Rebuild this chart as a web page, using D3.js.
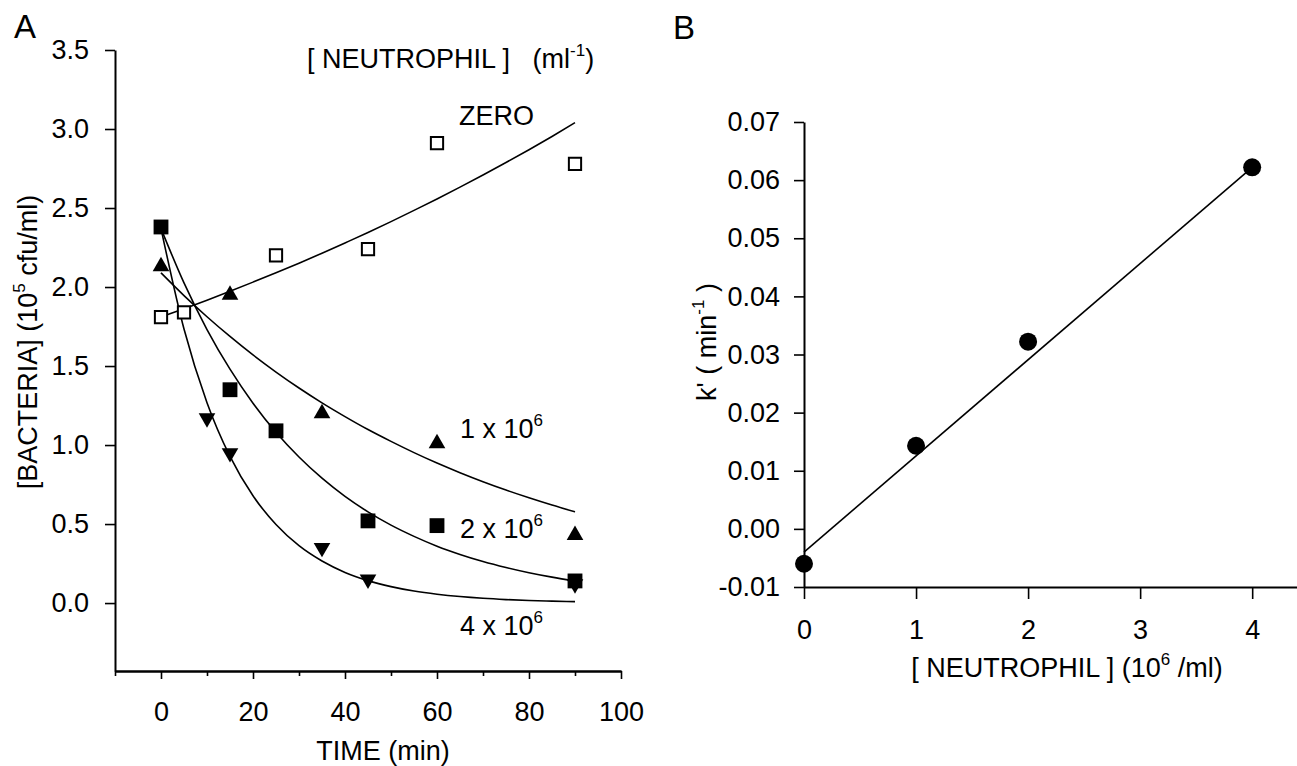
<!DOCTYPE html>
<html><head><meta charset="utf-8">
<script src="https://cdn.jsdelivr.net/npm/d3@7"></script>
<style>body{margin:0;background:#fff}text{font-family:"Liberation Sans",Arial,sans-serif;fill:#000}</style>
</head><body>
<script>
// ---------- Panel A data ----------
const timeZero = [0, 5, 25, 45, 60, 90];
const bactZero = [1.81, 1.84, 2.20, 2.24, 2.91, 2.78];
const time1e6 = [0, 15, 35, 60, 90];
const bact1e6 = [2.13, 1.95, 1.20, 1.01, 0.43];
const time2e6 = [0, 15, 25, 45, 60, 90];
const bact2e6 = [2.38, 1.35, 1.09, 0.52, 0.49, 0.14];
const time4e6 = [10, 15, 35, 45, 90];
const bact4e6 = [1.17, 0.95, 0.35, 0.15, 0.12];
// fitted curves
const fitTime = [0,5,10,15,20,25,30,35,40,45,50,55,60,65,70,75,80,85,90];
const fitZero = [1.81,1.863,1.917,1.973,2.031,2.090,2.151,2.214,2.279,2.345,2.414,2.485,2.557,2.632,2.709,2.788,2.869,2.953,3.04];
const fit1e6 = [2.09,1.946,1.812,1.687,1.570,1.462,1.361,1.267,1.180,1.098,1.023,0.952,0.886,0.825,0.768,0.715,0.666,0.620,0.577];
const fit2e6 = [2.37,2.026,1.731,1.480,1.265,1.081,0.924,0.790,0.675,0.577,0.493,0.422,0.360,0.308,0.263,0.225,0.192,0.164,0.140];
const fit4e6 = [2.37,1.734,1.268,0.928,0.679,0.497,0.363,0.266,0.194,0.142,0.104,0.076,0.056,0.041,0.030,0.022,0.016,0.012,0.009];
const xTicksA = [0, 20, 40, 60, 80, 100];
const xMinorA = [-10, 10, 30, 50, 70, 90];
const yTicksA = [0, 0.5, 1, 1.5, 2, 2.5, 3, 3.5];

// ---------- Panel B data ----------
const neutro = [0, 1, 2, 4];
const kPrime = [-0.0060, 0.0143, 0.0322, 0.0622];
const fitNeutro = [0, 4];
const fitK = [-0.0040, 0.0622];
const xTicksB = [0, 1, 2, 3, 4];
const yTicksB = [-0.01, 0, 0.01, 0.02, 0.03, 0.04, 0.05, 0.06, 0.07];

const W = 1297, H = 766;
const FS = 27;
const svg = d3.select("body").append("svg").attr("width", W).attr("height", H);
svg.append("rect").attr("width", W).attr("height", H).attr("fill", "#fff");

function styleAxis(g) {
  g.selectAll("path.domain").attr("stroke", "#000").attr("stroke-width", 2);
  g.selectAll(".tick line").attr("stroke", "#000").attr("stroke-width", 1.6);
  g.selectAll(".tick text").style("font-size", FS + "px").attr("fill", "#000")
    .style("font-family", '"Liberation Sans",Arial,sans-serif');
}
function sup(textSel, parts) {
  parts.forEach(([s, isSup], i) => {
    const t = textSel.append("tspan").text(s);
    if (isSup) t.attr("dy", -12).style("font-size", "17px");
    else if (i > 0 && parts[i - 1][1]) t.attr("dy", 12);
  });
}

// ================= Panel A =================
const xA = d3.scaleLinear().domain([-10, 100]).range([115, 621]);
const yA = d3.scaleLinear().domain([-0.43, 3.5]).range([671, 50]);

const gxA = svg.append("g").attr("transform", `translate(0,${yA(-0.43)})`)
  .call(d3.axisBottom(xA).tickValues(xTicksA).tickSize(8).tickSizeOuter(0).tickPadding(23).tickFormat(d3.format("d")));
styleAxis(gxA);
const gxAm = svg.append("g").attr("transform", `translate(0,${yA(-0.43)})`)
  .call(d3.axisBottom(xA).tickValues(xMinorA).tickSize(5).tickSizeOuter(0).tickFormat(""));
styleAxis(gxAm);
const gyA = svg.append("g").attr("transform", `translate(${xA(-10)},0)`)
  .call(d3.axisLeft(yA).tickValues(yTicksA).tickSize(10).tickSizeOuter(0).tickPadding(16).tickFormat(d3.format(".1f")));
styleAxis(gyA);

const lineA = d3.line().x(d => xA(d[0])).y(d => yA(d[1])).curve(d3.curveMonotoneX);
[fitZero, fit1e6, fit2e6, fit4e6].forEach(f => {
  svg.append("path").datum(fitTime.map((t, i) => [t, f[i]]))
    .attr("d", lineA).attr("fill", "none").attr("stroke", "#000").attr("stroke-width", 1.6);
});

// markers
const sqOpen = d3.symbol().type(d3.symbolSquare).size(150);
const sqFill = d3.symbol().type(d3.symbolSquare).size(220);
const tri = d3.symbol().type(d3.symbolTriangle).size(120);
svg.append("g").selectAll("path").data(timeZero.map((t, i) => [t, bactZero[i]])).join("path")
  .attr("d", sqOpen).attr("transform", d => `translate(${xA(d[0])},${yA(d[1])})`)
  .attr("fill", "#fff").attr("stroke", "#000").attr("stroke-width", 2);
svg.append("g").selectAll("path").data(time4e6.map((t, i) => [t, bact4e6[i]])).join("path")
  .attr("d", tri).attr("transform", d => `translate(${xA(d[0])},${yA(d[1])}) rotate(180)`)
  .attr("fill", "#000");
svg.append("g").selectAll("path").data(time1e6.map((t, i) => [t, bact1e6[i]])).join("path")
  .attr("d", tri).attr("transform", d => `translate(${xA(d[0])},${yA(d[1])})`)
  .attr("fill", "#000");
svg.append("g").selectAll("path").data(time2e6.map((t, i) => [t, bact2e6[i]])).join("path")
  .attr("d", sqFill).attr("transform", d => `translate(${xA(d[0])},${yA(d[1])})`)
  .attr("fill", "#000");

// texts A
svg.append("text").attr("x", 14).attr("y", 38).style("font-size", "33px").text("A");
sup(svg.append("text").attr("x", 307).attr("y", 68).style("font-size", FS + "px").attr("xml:space", "preserve"),
  [["[ NEUTROPHIL ]   (ml", false], ["-1", true], [")", false]]);
svg.append("text").attr("x", 459).attr("y", 125).style("font-size", FS + "px").text("ZERO");
sup(svg.append("text").attr("x", 460).attr("y", 438).style("font-size", FS + "px"), [["1 x 10", false], ["6", true]]);
sup(svg.append("text").attr("x", 460).attr("y", 538).style("font-size", FS + "px"), [["2 x 10", false], ["6", true]]);
sup(svg.append("text").attr("x", 460).attr("y", 635).style("font-size", FS + "px"), [["4 x 10", false], ["6", true]]);
svg.append("text").attr("x", 383).attr("y", 760).attr("text-anchor", "middle").style("font-size", FS + "px").text("TIME (min)");
sup(svg.append("text").attr("transform", "translate(37,342) rotate(-90)").attr("text-anchor", "middle").style("font-size", FS + "px"),
  [["[BACTERIA] (10", false], ["5", true], [" cfu/ml)", false]]);

// ================= Panel B =================
const xB = d3.scaleLinear().domain([0, 4.4]).range([804, 1297]);
const yB = d3.scaleLinear().domain([-0.01, 0.07]).range([587, 122]);

const gxB = svg.append("g").attr("transform", `translate(0,${yB(-0.01)})`)
  .call(d3.axisBottom(xB).tickValues(xTicksB).tickSize(12).tickSizeOuter(0).tickPadding(21).tickFormat(d3.format("d")));
styleAxis(gxB);
const gyB = svg.append("g").attr("transform", `translate(${xB(0)},0)`)
  .call(d3.axisLeft(yB).tickValues(yTicksB).tickSize(10).tickSizeOuter(0).tickPadding(14).tickFormat(d => d.toFixed(2)));
styleAxis(gyB);

svg.append("path").datum(fitNeutro.map((n, i) => [n, fitK[i]]))
  .attr("d", d3.line().x(d => xB(d[0])).y(d => yB(d[1])))
  .attr("fill", "none").attr("stroke", "#000").attr("stroke-width", 1.6);
svg.append("g").selectAll("circle").data(neutro.map((n, i) => [n, kPrime[i]])).join("circle")
  .attr("cx", d => xB(d[0])).attr("cy", d => yB(d[1])).attr("r", 9).attr("fill", "#000");

svg.append("text").attr("x", 673).attr("y", 39).style("font-size", "33px").text("B");
sup(svg.append("text").attr("x", 1067).attr("y", 677).attr("text-anchor", "middle").style("font-size", FS + "px"),
  [["[ NEUTROPHIL ] (10", false], ["6", true], [" /ml)", false]]);
sup(svg.append("text").attr("transform", "translate(716,342) rotate(-90)").attr("text-anchor", "middle").style("font-size", FS + "px").attr("xml:space", "preserve"),
  [["k' ( min", false], ["-1", true], [" )", false]]);
</script>
</body></html>
